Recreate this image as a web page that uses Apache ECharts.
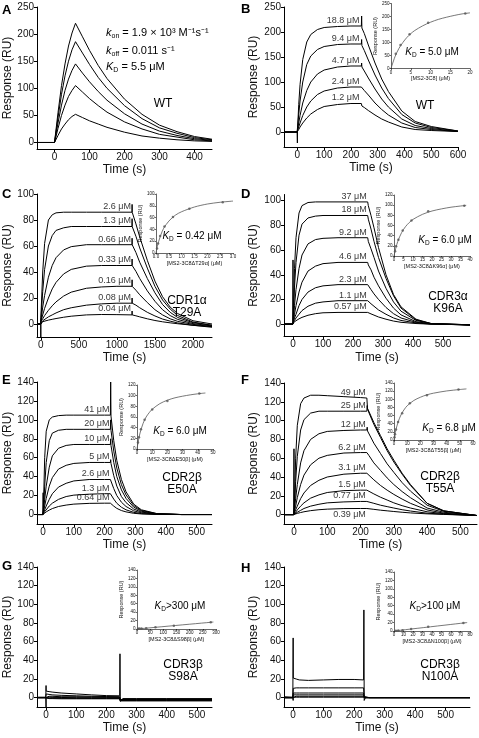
<!DOCTYPE html>
<html><head><meta charset="utf-8">
<script src="https://cdn.jsdelivr.net/npm/echarts@6/dist/echarts.min.js"></script>
<style>html,body{margin:0;padding:0;background:#fff}#c{width:479px;height:738px}</style>
</head><body><div id="c"></div>
<script>
// ===== DATA =====
// Panel A (WT)
const timeA = [-50, 0, 10, 20, 30, 40, 50, 60, 80, 100, 125, 150, 200, 250, 300, 350, 400, 450];
const curvesA = [
  [0,0,55,105,145,178,202,220,195,170,142,118,80,52,32,20,11,6],
  [0,0,46,89,123,150,171,186,165,144,120,100,68,44,27,17,9,5],
  [0,0,36,69,96,117,133,145,128,112,94,78,53,34,21,13,7,4],
  [0,0,26,50,69,85,96,105,93,81,68,56,38,25,15,10,5,3],
  [0,0,13,25,34,42,48,52,46,40,34,28,19,12,8,5,3,2]
];
// Panel B (WT)
const timeB = [-50, -1, 0, 0.5, 5, 10, 20, 35, 50, 75, 100, 150, 200, 239, 240, 241, 250, 265, 290, 315, 340, 390, 440, 500, 600];
const curvesB = [
  [0,0,-22,3,55,95,145,180,195,205,209,211,212,212,232,208,197,174,138,106,81,42,21,11,2],
  [0,0,0,2,35,62,100,135,152,165,171,175,176,176,185,173,163,144,114,88,67,35,18,9,2],
  [0,0,0,1,18,33,58,83,100,116,124,130,132,132,138,130,122,108,86,66,50,26,13,7,1],
  [0,0,0,1,10,18,33,50,62,75,82,88,90,90,93,88,83,74,58,45,34,18,9,5,1],
  [0,0,0,1,5,10,18,28,36,45,51,55,57,57,60,52,49,43,34,26,20,10,5,3,1]
];
const concB = ['18.8 μM','9.4 μM','4.7 μM','2.4 μM','1.2 μM'];
const plateauB = [212,176,132,90,57];
// Panel C (CDR1α T29A)
const timeC = [-50, -1, 0, 1, 25, 50, 100, 150, 200, 300, 400, 600, 800, 1000, 1199, 1200, 1201, 1250, 1300, 1400, 1500, 1600, 1700, 1800, 2000, 2250];
const curvesC = [
  [0,0,-10,5,40,62,80,84,85.5,86,86,86,86,86,86,92,86,77,67,49,33,21,13,8,2.5,0],
  [0,0,0,3,25,42,60,68,72,74,75,75,75,75,75,81,75,67.5,58.5,43,29,18.5,11.5,6.5,1.5,-1],
  [0,0,0,2,13,22,36,45,51,57,59.5,61,61,61,61,66,61,55,47.5,35,24,15,9,5,1,-1],
  [0,0,0,2,7,12,20,27,32,38.5,42,44.5,45,45,45,50,45,40.5,35,25.5,17.5,11,6.5,3.5,0.3,-1.5],
  [0,0,0,2,4,6.5,10.5,14,17,21.5,24.5,27.5,28.5,29,29,34,29,26,22.5,16.5,11,7,4,2,-0.3,-2],
  [0,0,0,1.5,2.5,3.5,5.5,7,8.5,11,12.5,14.5,15.5,16,16,20,16,14.5,12.5,9,6.2,3.8,2.2,0.8,-1,-2.5],
  [0,0,0,1.5,1.8,2.2,3,3.6,4.2,5.2,6,7,7.3,7.2,7,10,7,6.3,5.5,4,2.7,1.7,0.9,0.2,-1,-2]
];
const concC = ['2.6 μM','1.3 μM','0.66 μM','0.33 μM','0.16 μM','0.08 μM','0.04 μM'];
const plateauC = [86,75,61,45,29,16,7.5];
// Panel D (CDR3α K96A)
const timeD = [-30, -1, 0, 0.5, 1, 5, 10, 20, 30, 50, 75, 100, 150, 200, 249, 250, 251, 260, 270, 285, 310, 335, 360, 410, 460, 590];
const curvesD = [
  [0,0,52,3,5,45,70,90,96,98.5,99,99,99,99,99,100,96,88,78,62,40,24,14,4,0.5,-1],
  [0,0,0,2,3,30,50,72,81,86,87.5,88,88,88,88,89,85,77,67,54,37,23,13,3.5,0.5,-0.5],
  [0,0,0,1,2,15,28,45,56,65,68.5,69.5,70,70,70,71,67,61,54,43,29,18,10.5,3,0.5,-0.5],
  [0,0,0,1,1.5,8,15,26,34,43,47,49,50,50,50,51,48,44,38,31,21,13,7.5,2,0.3,-0.5],
  [0,0,0,1,1.5,5,8,15,20,26,29.5,31,32,32,32,33,31,28,24.5,20,13.5,8.5,5,1.5,0.2,-0.5],
  [0,0,0,1,1.2,3,5,8,11,14.5,17,18,19,19,19,20,18,16.5,14.5,11.5,8,5,3,1,0,-0.5],
  [0,0,0,1,1.1,2,2.8,4.3,5.5,7.2,8.5,9.2,9.5,9.5,9.5,10,9,8.3,7.3,5.8,4,2.5,1.5,0.5,0,-0.5]
];
const concD = ['37 μM','18 μM','9.2 μM','4.6 μM','2.3 μM','1.1 μM','0.57 μM'];
const plateauD = [99,88,70,50,32,19,9.5];
// Panel E (CDR2β E50A)
const timeE = [-20, -1, 0, 0.5, 1, 5, 10, 20, 30, 50, 75, 100, 150, 200, 219, 220, 221, 230, 240, 255, 270, 295, 320, 370, 450, 550];
const curvesE = [
  [0,0,23,2,4,60,88,100,103,104.5,105,105,105,105,105,140,104,78,57,37,24,11,5,1,0,0],
  [0,0,0,1,3,30,55,78,86,89,90,90,90,90,90,100,89,67,49,31.5,20.7,9.5,4.3,0.9,0,0],
  [0,0,0,1,2,16,30,50,62,70,73,74,74,74,74,80,73,55,40,26,17,7.8,3.5,0.7,0,0],
  [0,0,0,1,1.5,9,17,30,39,48,52,54,55,55,55,58,54,41,30,19,12.6,5.8,2.6,0.5,0,0],
  [0,0,0,1,1.2,5,9,16,22,29,33,35.5,37,37,37,39,36,27.4,20,13,8.5,3.9,1.8,0.4,0,0],
  [0,0,0,1,1,3,5,9,12,16,19,20.5,21.5,22,22,23,21.5,16.3,11.9,7.7,5,2.3,1,0.2,0,0],
  [0,0,0,0.5,0.5,1.5,2.8,4.7,6.3,8.5,10,11,11.8,12,12,12.5,11.8,8.9,6.5,4.2,2.8,1.3,0.6,0.1,0,0]
];
const concE = ['41 μM','20 μM','10 μM','5 μM','2.6 μM','1.3 μM','0.64 μM'];
const plateauE = [105,90,74,55,37,22,12];
// Panel F (CDR2β T55A)
const timeF = [-30, -1, 0, 0.5, 1, 5, 10, 20, 30, 50, 75, 100, 150, 200, 219, 220, 221, 225, 240, 260, 280, 300, 325, 350, 400, 450, 550];
const curvesF = [
  [0,0,70,2,5,60,95,118,124,127,127,126.5,125.5,124.5,124,124,113,112,98,84,70,58,44,32,12,4,-1],
  [0,0,0,1,3,35,62,90,101,108,110,110,110,110,110,116,112,110,96,82,68,56,43,31,12,4,-1],
  [0,0,0,1,2,17,32,55,68,80,86,88.5,89.5,90,90,93,89,87,76,65,54,45,34,25,10,3.5,-1],
  [0,0,0,1,1.5,9,18,32,42,53,60,63,65.5,66,66,68,65,63,55,47,39,32,24.5,18,7,2.5,-1],
  [0,0,0,1,1.2,5,9,17,23,31,36.5,40,43,44,44,45,43,42,37,31,26,21.5,16.5,12,5,1.5,-1],
  [0,0,0,0.5,1,2.5,5,9,12.5,17.5,21,23.5,25.5,26,26,27,25.5,25,22,18.5,15.5,12.5,9.5,7,3,1,-1],
  [0,0,0,0.5,1,1.5,2.5,4.5,6.5,9,11,12.5,13.5,14,14,15,14,13.5,12,10,8.5,7,5.2,3.8,1.5,0.5,-1],
  [0,0,0,0.5,0.5,1,1.3,2.2,3,4.2,5.2,5.8,6.4,6.5,6.5,7,6.5,6.3,5.6,4.7,4,3.3,2.5,1.8,0.8,0.2,-1]
];
const concF = ['49 μM','25 μM','12 μM','6.2 μM','3.1 μM','1.5 μM','0.77 μM'];
const plateauF = [124,110,90,66,44,26,14];
const concFlow = ['0.39 μM'];
const plateauFlow = [6.5];
// Panel G (CDR3β S98A)
const timeG = [-30, -1, 0, 0.5, 1, 10, 20, 50, 100, 150, 200, 244, 245, 246, 250, 255, 300, 400, 550];
const curvesG = [
  [0.5,0.5,13,7,7,6.5,6,5,4,3,2.2,2,47,-3,-1,-1,-1,-1,-1],
  [0,0,0,4,4,3.5,3,2.5,2,1.5,1.2,1,1,-4,-2,-1.5,-1.5,-1.5,-1.5],
  [0,0,0,2,2,1.5,1.5,1,1,0.8,0.5,0.5,0.5,-2,-2,-2,-2,-2,-2],
  [0,0,0,0.5,0.5,0.5,0.3,0.2,0,0,0,0,0,-2.5,-2.5,-2.5,-2.5,-2.5,-2.5],
  [0,0,-10,-0.5,-0.5,-0.5,-0.5,-0.7,-0.7,-0.8,-0.8,-0.8,-0.8,-3,-3,-3,-3,-3,-3],
  [0,0,0,-1,-1,-1,-1,-1.2,-1.2,-1.2,-1.2,-1.2,-1.2,-3.5,-3.5,-3.5,-3.5,-3.5,-3.5]
];
// Panel H (CDR3β N100A)
const timeH = [-30, -1, 0, 0.5, 5, 10, 20, 50, 100, 150, 200, 231, 232, 233, 237, 250, 300, 580];
const curvesH = [
  [1,0.5,64,21,21,20,19,18.5,19,19.5,19.5,19,94,-3,0,0,0,0],
  [0,0,0,10,11,10.5,10.5,10.5,10.5,10.5,10.5,10.5,10.5,0,0,0,0,0],
  [0,0,0,5,5.5,5,5,5,5,5,5,5,5,0,0,0,0,0],
  [0,0,0,3,3.5,3,3,3,3,3,3,3,3,0,0,0,0,0],
  [0,0,0,1.5,2,1.5,1.5,1.5,1.5,1.5,1.5,1.5,1.5,0,0,0,0,0],
  [0,0,-3,0.5,0.5,0.5,0.5,0.5,0.5,0.5,0.5,0.5,0.5,-1,0,0,0,0]
];
// Insets: equilibrium responses and fitted curves
const insB_x = [1.2,2.4,4.7,9.4,18.8], insB_y = [57,90,132,176,212];
const fitB_x = [0,1,2,3,4,5,6,8,10,12,14,16,18,20], fitB_y = [0,45,77,100,119,134,146,164,178,189,197,204,210,214];
const insC_x = [0.04,0.08,0.16,0.33,0.66,1.3,2.6], insC_y = [7.5,16,29,45,61,75,86];
const fitC_x = [0,0.05,0.1,0.2,0.3,0.5,0.75,1,1.5,2,2.5,3], fitC_y = [0,10.6,19,32,42,54,64,70,78,83,86,88];
const insD_x = [0.57,1.1,2.3,4.6,9.2,18,37], insD_y = [9.5,19,32,50,70,88,99];
const fitD_x = [0,1,2,4,6,8,10,15,20,25,30,35,38], fitD_y = [0,16.4,28.8,46,57.5,65.7,72,82,88.5,92.7,96,98.3,99.6];
const insE_x = [0.64,1.3,2.6,5,10,20,41], insE_y = [12,22,37,55,74,90,104];
const fitE_x = [0,1,2,4,6,8,10,15,20,25,30,35,40,45], fitE_y = [0,17,30,48,60,68,74.5,85,91.5,96,99,101.5,103.5,105];
const insF_x = [0.39,0.77,1.5,3.1,6.2,12,25,49], insF_y = [6.5,14,26,44,66,90,110,124];
const fitF_x = [0,1,2,4,6,8,10,15,20,25,30,40,50,55], fitF_y = [0,18,32,52,66,76,84,97,105,111,115,120.5,124,125.5];
const insG_x = [4,9,17,35,70,140,280], insG_y = [0.5,1,1,2,4,8,16];
const fitG_x = [0,290], fitG_y = [0,16.5];
const insH_x = [2,4.5,9,18,36,73], insH_y = [0.5,1,2,4.5,10,19];
const fitH_x = [0,77], fitH_y = [0,20];
// Tick labels
const ticksT450 = [0,100,200,300,400];
const ticksT600 = [0,100,200,300,400,500,600];
const ticksT2000 = [0,500,1000,1500,2000];
const ticksT500 = [0,100,200,300,400,500];
const ticksR250 = [0,50,100,150,200,250];
const ticksR100 = [0,20,40,60,80,100];
const ticksR140 = [0,20,40,60,80,100,120,140];
const ticksR120 = [0,20,40,60,80,100,120];

// ===== BUILD =====
const FONT = '"Liberation Sans", Arial, Helvetica, sans-serif';
const grids = [], xAxes = [], yAxes = [], series = [];
const plain = v => String(v);

function addGrid(box, xr, yr, o) {
  const i = grids.length;
  grids.push({left: box[0], top: box[1], width: box[2], height: box[3]});
  const lw = o.inset ? 0.6 : 1;
  const common = (ticks, fmt) => ({
    axisLine: {onZero: false, lineStyle: {color: '#000', width: lw}},
    axisTick: {customValues: ticks, length: o.inset ? 1.5 : 3, lineStyle: {color: '#000', width: lw}},
    axisLabel: {customValues: ticks, fontSize: o.inset ? 4.5 : 10, color: '#111', margin: o.inset ? 1.5 : 3, fontFamily: FONT, formatter: fmt || plain},
    splitLine: {show: false}
  });
  xAxes.push(Object.assign({gridIndex: i, type: 'value', min: xr[0], max: xr[1], name: o.xname, nameLocation: 'middle', nameGap: o.xgap,
    nameTextStyle: {fontSize: o.inset ? 5.5 : 12, fontFamily: FONT, color: '#111'}}, common(xr[2], o.xfmt)));
  yAxes.push(Object.assign({gridIndex: i, type: 'value', min: yr[0], max: yr[1], name: o.yname, nameLocation: 'middle', nameGap: o.ygap,
    nameTextStyle: {fontSize: o.inset ? 5.5 : 12, fontFamily: FONT, color: '#111'}}, common(yr[2])));
  return i;
}
function addCurves(i, t, curves) {
  curves.forEach(ys => series.push({type: 'line', xAxisIndex: i, yAxisIndex: i, symbol: 'none', silent: true,
    lineStyle: {color: '#000', width: 1}, data: t.map((x, k) => [x, ys[k]])}));
}
function addLabels(i, tx, plateaus, texts, below) {
  series.push({type: 'scatter', xAxisIndex: i, yAxisIndex: i, symbolSize: 0, silent: true,
    data: plateaus.map((p, k) => [tx, p, texts[k]]),
    label: {show: true, formatter: p => p.value[2], position: [0, 0], align: 'right',
      verticalAlign: below ? 'top' : 'bottom', offset: [0, below ? 2 : -1], fontSize: 9, fontFamily: FONT, color: '#000'}});
}
function addInset(i, px, py, fx, fy) {
  series.push({type: 'line', xAxisIndex: i, yAxisIndex: i, symbol: 'none', smooth: 0.3, silent: true,
    lineStyle: {color: '#555', width: 0.8}, data: fx.map((x, k) => [x, fy[k]])});
  series.push({type: 'scatter', xAxisIndex: i, yAxisIndex: i, symbol: 'circle', symbolSize: 2.5, silent: true,
    itemStyle: {color: '#555'}, data: px.map((x, k) => [x, py[k]])});
}
const mainOpt = (yg, xg) => ({xname: 'Time (s)', yname: 'Response (RU)', xgap: xg, ygap: yg});
const insOpt = (nm) => ({inset: true, xname: nm, yname: 'Response (RU)', xgap: 6, ygap: 9});

// main panels
const gA = addGrid([37, 7, 175, 142], [-50, 450, ticksT450], [-12, 250, ticksR250], mainOpt(23, 15));
addCurves(gA, timeA, curvesA);
const gB = addGrid([284, 7, 174, 140], [-50, 600, ticksT600], [-30, 250, ticksR250], mainOpt(24, 15));
addCurves(gB, timeB, curvesB); addLabels(gB, 232, plateauB, concB);
const gC = addGrid([37, 194, 175, 143], [-50, 2250, ticksT2000], [-10, 100, ticksR100], mainOpt(23, 15));
addCurves(gC, timeC, curvesC); addLabels(gC, 1185, plateauC, concC);
const gD = addGrid([284, 194.5, 186, 142], [-30, 590, ticksT500], [-10, 105, ticksR100], mainOpt(24, 15));
addCurves(gD, timeD, curvesD); addLabels(gD, 246, plateauD, concD);
const gE = addGrid([37, 382, 175, 142], [-20, 550, ticksT500], [-10, 140, ticksR140], mainOpt(23, 15));
addCurves(gE, timeE, curvesE); addLabels(gE, 216, plateauE, concE);
const gF = addGrid([284, 383, 193, 141], [-30, 550, ticksT500], [-10, 140, ticksR140], mainOpt(24, 15));
addCurves(gF, timeF, curvesF); addLabels(gF, 216, plateauF, concF); addLabels(gF, 216, plateauFlow, concFlow, true);
const gG = addGrid([37, 567, 175, 140], [-30, 550, ticksT500], [-10, 140, ticksR140], mainOpt(23, 15));
addCurves(gG, timeG, curvesG);
const gH = addGrid([284, 567, 186, 140], [-30, 580, ticksT500], [-10, 140, ticksR140], mainOpt(24, 15));
addCurves(gH, timeH, curvesH);

// insets
const iB = addGrid([391, 3.5, 79, 65], [0, 20, [0,5,10,15,20]], [0, 250, ticksR250], insOpt('[MS2-3C8] (μM)'));
addInset(iB, insB_x, insB_y, fitB_x, fitB_y);
const iC = addGrid([156, 194, 77, 59], [0, 3, [0,0.5,1,1.5,2,2.5,3]], [0, 100, ticksR100], Object.assign(insOpt('[MS2-3C8ΔT29α] (μM)'), {xfmt: v => v.toFixed(1)}));
addInset(iC, insC_x, insC_y, fitC_x, fitC_y);
const iD = addGrid([394, 195, 76, 61], [0, 40, [0,5,10,15,20,25,30,35,40]], [0, 120, ticksR120], insOpt('[MS2-3C8ΔK96α] (μM)'));
addInset(iD, insD_x, insD_y, fitD_x, fitD_y);
const iE = addGrid([137, 385, 76, 64], [0, 50, [0,10,20,30,40,50]], [0, 120, ticksR120], insOpt('[MS2-3C8ΔE50β] (μM)'));
addInset(iE, insE_x, insE_y, fitE_x, fitE_y);
const iF = addGrid([394, 383, 79, 57], [0, 60, [0,10,20,30,40,50,60]], [0, 140, ticksR140], insOpt('[MS2-3C8ΔT55β] (μM)'));
addInset(iF, insF_x, insF_y, fitF_x, fitF_y);
const iG = addGrid([137, 570, 79, 59], [0, 300, [0,50,100,150,200,250,300]], [0, 140, ticksR140], insOpt('[MS2-3C8ΔS98β] (μM)'));
addInset(iG, insG_x, insG_y, fitG_x, fitG_y);
const iH = addGrid([394, 572, 76, 59], [0, 80, [0,10,20,30,40,50,60,70,80]], [0, 140, ticksR140], insOpt('[MS2-3C8ΔN100β] (μM)'));
addInset(iH, insH_x, insH_y, fitH_x, fitH_y);

// text annotations
const rich = {
  n: {fontSize: 11, fontFamily: FONT, lineHeight: 14, color: '#000'},
  i: {fontSize: 11, fontFamily: FONT, fontStyle: 'italic', lineHeight: 14, color: '#000'},
  s: {fontSize: 7, fontFamily: FONT, verticalAlign: 'bottom', lineHeight: 9, color: '#000'},
  n10: {fontSize: 10, fontFamily: FONT, lineHeight: 13, color: '#000'},
  i10: {fontSize: 10, fontFamily: FONT, fontStyle: 'italic', lineHeight: 13, color: '#000'},
  s10: {fontSize: 6.5, fontFamily: FONT, verticalAlign: 'bottom', lineHeight: 8, color: '#000'}
};
const gtext = (x, y, text, extra) => ({type: 'text', x, y, silent: true,
  style: Object.assign({text, fontFamily: FONT, fill: '#000', rich}, extra)});
const letters = [['A',2,4],['B',241,3],['C',2,188],['D',241,188],['E',2,374],['F',241,374],['G',2,560],['H',241,562]];
const graphics = letters.map(l => gtext(l[1], l[2], l[0], {fontSize: 13, fontWeight: 'bold', verticalAlign: 'top'}));
graphics.push(gtext(106, 33, '{i|k}{s|on}{n| = 1.9 × 10³ M⁻¹s⁻¹}', {verticalAlign: 'middle'}));
graphics.push(gtext(106, 50.5, '{i|k}{s|off}{n| = 0.011 s⁻¹}', {verticalAlign: 'middle'}));
graphics.push(gtext(106, 66.5, '{i|K}{s|D}{n| = 5.5 μM}', {verticalAlign: 'middle'}));
const mid = {align: 'center', verticalAlign: 'middle', fontSize: 12};
graphics.push(gtext(163, 104, 'WT', mid));
graphics.push(gtext(425, 106, 'WT', mid));
[[187, 301, 'CDR1α'], [187, 313, 'T29A'], [448, 297, 'CDR3α'], [448, 308.5, 'K96A'],
 [182, 478, 'CDR2β'], [182, 489.5, 'E50A'], [440, 477, 'CDR2β'], [440, 488.5, 'T55A'],
 [183, 665, 'CDR3β'], [183, 676.5, 'S98A'], [440, 665, 'CDR3β'], [440, 676.5, 'N100A']]
  .forEach(m => graphics.push(gtext(m[0], m[1], m[2], mid)));
const kmid = {align: 'center', verticalAlign: 'middle'};
[[432, 52, '5.0 μM'], [192, 236, '0.42 μM'], [445, 240, '6.0 μM'], [180, 431, '6.0 μM'], [449, 428, '6.8 μM']]
  .forEach(k => graphics.push(gtext(k[0], k[1], '{i10|K}{s10|D}{n10| = ' + k[2] + '}', kmid)));
graphics.push(gtext(180, 606, '{i10|K}{s10|D}{n10|>300 μM}', kmid));
graphics.push(gtext(435, 606, '{i10|K}{s10|D}{n10|>100 μM}', kmid));

const chart = echarts.init(document.getElementById('c'), null, {renderer: 'canvas'});
chart.setOption({animation: false, backgroundColor: '#fff', grid: grids, xAxis: xAxes, yAxis: yAxes, series, graphic: graphics});
</script></body></html>
